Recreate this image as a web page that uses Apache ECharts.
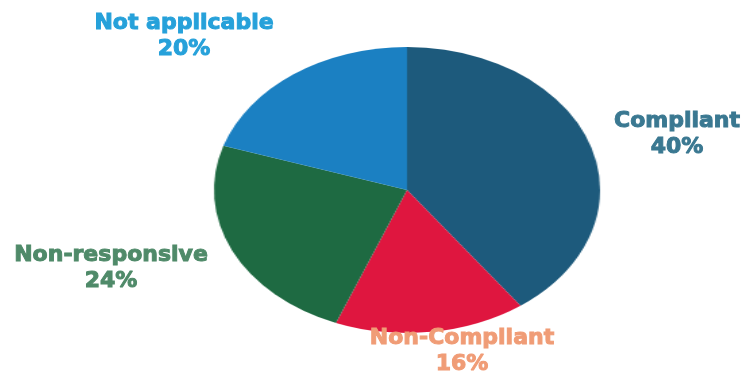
<!DOCTYPE html>
<html>
<head>
<meta charset="utf-8">
<script src="https://cdn.jsdelivr.net/npm/echarts@6/dist/echarts.min.js"></script>
<style>
html,body{margin:0;padding:0;background:#fff;}
#wrap{position:relative;width:744px;height:375px;overflow:hidden;}
#pie{position:absolute;left:0;top:0;width:744px;height:375px;transform:scaleX(1.35);transform-origin:407px 190px;}
#labels{position:absolute;left:0;top:0;width:744px;height:375px;}
</style>
</head>
<body>
<div id="wrap"><div id="pie"></div><div id="labels"></div></div>
<script>
const categories = ['Compliant', 'Non-Compliant', 'Non-responsive', 'Not applicable'];
const values = [40, 16, 24, 20];
const sliceColors = ['#1d5a7c', '#df163f', '#1e6a42', '#1b80c2'];
const labelColors = ['#3a7891', '#f09c76', '#4f8a69', '#26a1da'];
const labelPos = [[677, 134], [462, 351], [111, 268], [184, 36]];

const pie = echarts.init(document.getElementById('pie'));
pie.setOption({
  animation: false,
  series: [{
    type: 'pie',
    center: [407, 190],
    radius: 143,
    startAngle: 90,
    clockwise: true,
    label: {show: false},
    labelLine: {show: false},
    emphasis: {disabled: true},
    itemStyle: {borderWidth: 0},
    data: categories.map((c, i) => ({name: c, value: values[i], itemStyle: {color: sliceColors[i]}}))
  }]
});

const lab = echarts.init(document.getElementById('labels'));
lab.setOption({
  animation: false,
  graphic: categories.map((c, i) => ({
    type: 'text',
    x: labelPos[i][0],
    y: labelPos[i][1],
    style: {
      text: c + '\n' + values[i] + '%',
      fill: labelColors[i],
      stroke: labelColors[i],
      lineWidth: 1,
      font: 'bold 22px "DejaVu Sans"',
      lineHeight: 26,
      align: 'center',
      verticalAlign: 'middle'
    }
  }))
});
</script>
</body>
</html>
